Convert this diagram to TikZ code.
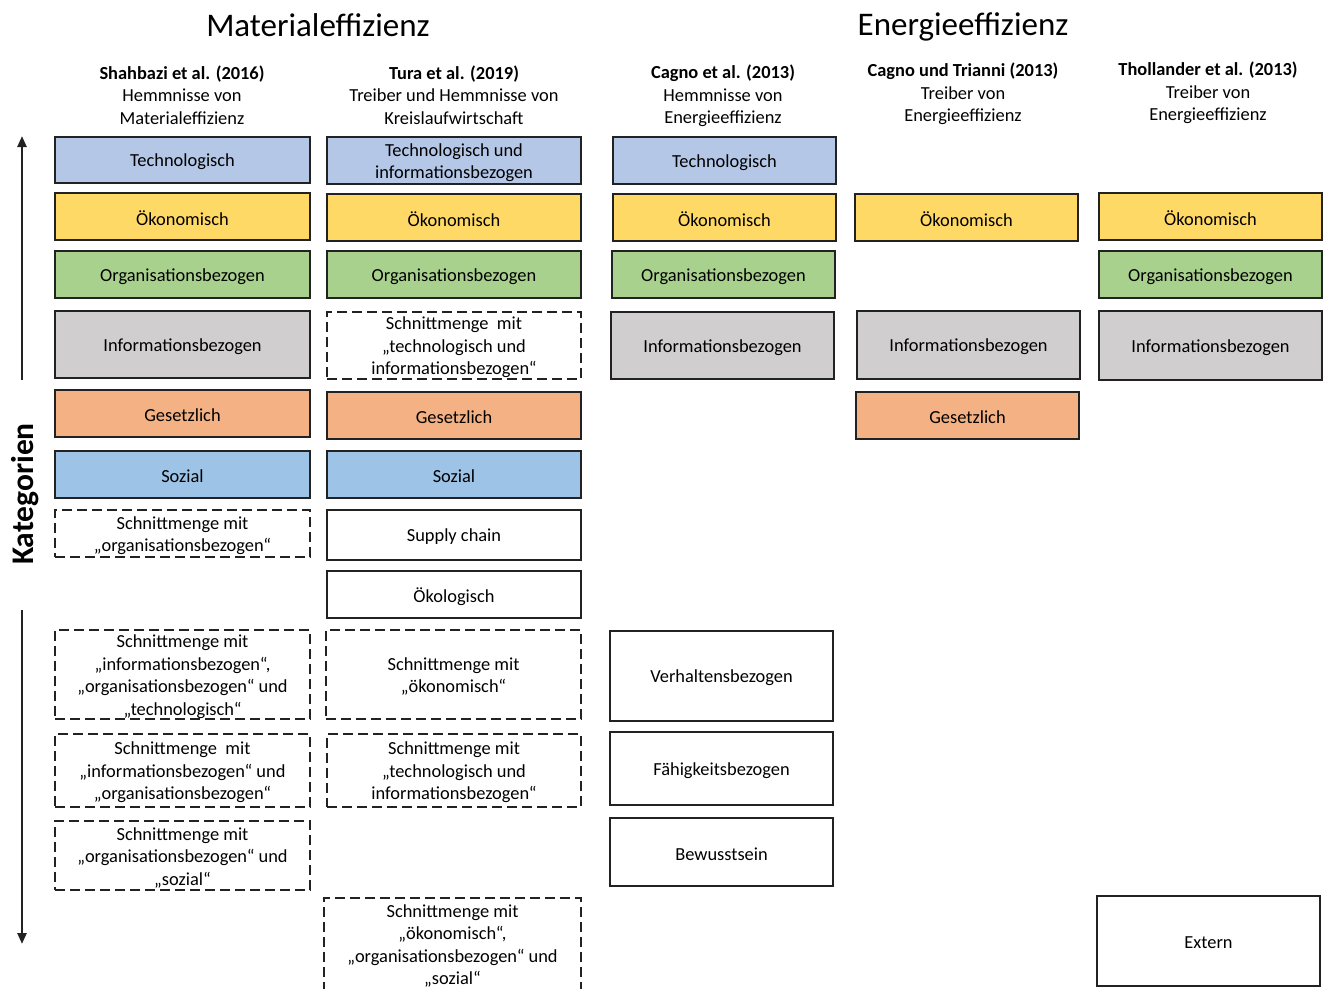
\documentclass[tikz,border=0pt]{standalone}
\usepackage{fontspec}
\setmainfont{Carlito}
\usetikzlibrary{arrows.meta}
\definecolor{ctech}{HTML}{B4C7E7}
\definecolor{coek}{HTML}{FFD966}
\definecolor{corg}{HTML}{A9D18E}
\definecolor{cinf}{HTML}{D0CECE}
\definecolor{cges}{HTML}{F4B183}
\definecolor{csoz}{HTML}{9DC3E6}
\definecolor{cline}{HTML}{222222}
\newcommand\bodyfont{\fontsize{18.4}{22.5}\selectfont}
\newcommand\bx[7]{\node[#6, minimum width={(#4)-(#2)}, minimum height={(#5)-(#3)}] (#1) at ({((#2)+(#4))/2},{((#3)+(#5))/2}) {};
  \node[btext] (#1t) at ([yshift=-2pt]#1.center) {#7};}
\tikzset{
  box/.style={draw=cline, line width=1.6pt, inner sep=0pt},
  dbox/.style={box, dash pattern=on 10pt off 5pt},
  btext/.style={inner sep=0pt, align=center, font=\bodyfont, text=black},
  head/.style={align=center, font=\bodyfont, inner sep=0pt},
  title/.style={font=\fontsize{33}{40}\selectfont, inner sep=0pt},
  axis/.style={line width=2.4pt, cline, -{Triangle[length=11pt,width=9pt]}}
}
\begin{document}
\begin{tikzpicture}[x=1pt,y=-1pt]
\useasboundingbox (0,0) rectangle (1324,988);
% titles
\node[title] (tm) at (318,25) {Materialeffizienz};
\node[title] (te) at (963,27) {Energieeffizienz};
% column headers
\node[head] (h1) at (182,95) {\textbf{Shahbazi et al. (2016)}\\Hemmnisse von\\Materialeffizienz};
\node[head] (h2) at (454,95) {\textbf{Tura et al. (2019)}\\Treiber und Hemmnisse von\\Kreislaufwirtschaft};
\node[head] (h3) at (723,96) {\textbf{Cagno et al. (2013)}\\Hemmnisse von\\Energieeffizienz};
\node[head] (h4) at (963,94) {\textbf{Cagno und Trianni (2013)}\\Treiber von\\Energieeffizienz};
\node[head] (h5) at (1208,93) {\textbf{Thollander et al. (2013)}\\Treiber von\\Energieeffizienz};
% axis
\node[rotate=90, font=\fontsize{31.5}{36}\selectfont\bfseries, inner sep=0pt] (kat) at (25,494) {Kategorien};
\coordinate (a1) at (22,380);
\coordinate (a2) at (22,136);
\coordinate (b1) at (22,610);
\coordinate (b2) at (22,944);
\draw[axis] (a1) -- (a2);
\draw[axis] (b1) -- (b2);
% column 1
\bx{c1a}{55}{137}{310}{183}{box,fill=ctech}{Technologisch}
\bx{c1b}{55}{193}{310}{240}{box,fill=coek}{Ökonomisch}
\bx{c1c}{55}{251}{310}{298}{box,fill=corg}{Organisationsbezogen}
\bx{c1d}{55}{311}{310}{378}{box,fill=cinf}{Informationsbezogen}
\bx{c1e}{55}{390}{310}{437}{box,fill=cges}{Gesetzlich}
\bx{c1f}{55}{451}{310}{498}{box,fill=csoz}{Sozial}
\bx{c1g}{55}{510}{310}{557}{dbox}{Schnittmenge mit\\„organisationsbezogen“}
\bx{c1h}{55}{630}{310}{719}{dbox}{Schnittmenge mit\\„informationsbezogen“,\\„organisationsbezogen“ und\\„technologisch“}
\bx{c1i}{55}{734}{310}{807}{dbox}{Schnittmenge\ \ mit\\„informationsbezogen“ und\\„organisationsbezogen“}
\bx{c1j}{55}{821}{310}{890}{dbox}{Schnittmenge mit\\„organisationsbezogen“ und\\„sozial“}
% column 2
\bx{c2a}{327}{137}{581}{184}{box,fill=ctech}{Technologisch und\\informationsbezogen}
\bx{c2b}{327}{194}{581}{241}{box,fill=coek}{Ökonomisch}
\bx{c2c}{327}{251}{581}{298}{box,fill=corg}{Organisationsbezogen}
\bx{c2d}{327}{312}{581}{379}{dbox}{Schnittmenge\ \ mit\\„technologisch und\\informationsbezogen“}
\bx{c2e}{327}{392}{581}{439}{box,fill=cges}{Gesetzlich}
\bx{c2f}{327}{451}{581}{498}{box,fill=csoz}{Sozial}
\bx{c2g}{327}{510}{581}{560}{box}{Supply chain}
\bx{c2h}{327}{571}{581}{618}{box}{Ökologisch}
\bx{c2i}{326}{630}{581}{719}{dbox}{Schnittmenge mit\\„ökonomisch“}
\bx{c2j}{327}{734}{581}{807}{dbox}{Schnittmenge mit\\„technologisch und\\informationsbezogen“}
\bx{c2k}{324}{898}{581}{990}{dbox}{Schnittmenge mit\\„ökonomisch“,\\„organisationsbezogen“ und\\„sozial“}
% column 3
\bx{c3a}{613}{137}{836}{184}{box,fill=ctech}{Technologisch}
\bx{c3b}{613}{194}{836}{241}{box,fill=coek}{Ökonomisch}
\bx{c3c}{612}{251}{835}{298}{box,fill=corg}{Organisationsbezogen}
\bx{c3d}{611}{312}{834}{379}{box,fill=cinf}{Informationsbezogen}
\bx{c3e}{610}{631}{833}{721}{box}{Verhaltensbezogen}
\bx{c3f}{610}{732}{833}{805}{box}{Fähigkeitsbezogen}
\bx{c3g}{610}{818}{833}{886}{box}{Bewusstsein}
% column 4
\bx{c4a}{855}{194}{1078}{241}{box,fill=coek}{Ökonomisch}
\bx{c4b}{857}{311}{1080}{379}{box,fill=cinf}{Informationsbezogen}
\bx{c4c}{856}{392}{1079}{439}{box,fill=cges}{Gesetzlich}
% column 5
\bx{c5a}{1099}{193}{1322}{240}{box,fill=coek}{Ökonomisch}
\bx{c5b}{1099}{251}{1322}{298}{box,fill=corg}{Organisationsbezogen}
\bx{c5c}{1099}{311}{1322}{380}{box,fill=cinf}{Informationsbezogen}
\bx{c5d}{1097}{896}{1320}{986}{box}{Extern}
\end{tikzpicture}
\end{document}
